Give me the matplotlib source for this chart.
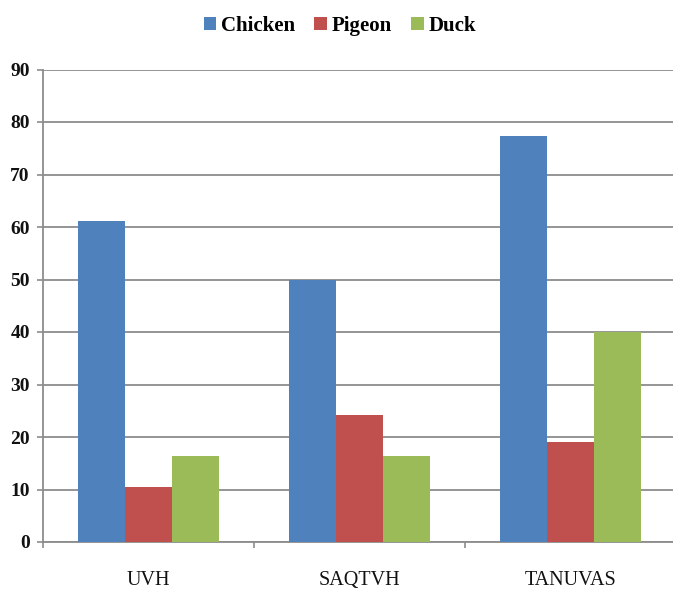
import matplotlib
matplotlib.use("Agg")
import matplotlib.pyplot as plt
import numpy as np

sites = ["UVH", "SAQTVH", "TANUVAS"]
chicken = [61.1, 50.0, 77.3]
pigeon = [10.4, 24.2, 19.0]
duck = [16.4, 16.4, 40.0]
series_names = ["Chicken", "Pigeon", "Duck"]
colors = ["#4F81BD", "#C0504D", "#9BBB59"]
y_ticks = [0, 10, 20, 30, 40, 50, 60, 70, 80, 90]

W, H = 673, 590
fig = plt.figure(figsize=(W / 100, H / 100), dpi=100)
ax = fig.add_axes([43 / W, 48 / H, (676 - 43) / W, (542 - 69.5) / H])

x = np.arange(len(sites))
bw = 0.2227
for i, (vals, name, c) in enumerate(zip([chicken, pigeon, duck], series_names, colors)):
    ax.bar(x + (i - 1) * bw, vals, width=bw, color=c, label=name, zorder=3)

ax.set_xlim(-0.5, len(sites) - 0.5)
ax.set_ylim(0, 90)
ax.set_yticks(y_ticks)
ax.set_yticklabels([str(t) for t in y_ticks], fontfamily="Liberation Serif",
                   fontweight="bold", fontsize=14)

ax.grid(axis="y", color="#8c8c8c", linewidth=1.3, zorder=0)
ax.set_axisbelow(True)

for s in ["top", "right"]:
    ax.spines[s].set_visible(False)
for s in ["left", "bottom"]:
    ax.spines[s].set_color("#8c8c8c")
    ax.spines[s].set_linewidth(1.3)

ax.tick_params(axis="y", length=4.5, width=1.2, color="#8c8c8c", pad=5, labelcolor="#111111")
ax.set_xticks(np.arange(-0.5, len(sites) - 0.4, 1.0))
ax.set_xticklabels([])
ax.tick_params(axis="x", which="major", length=4.5, width=1.2, color="#8c8c8c", direction="out")
ax.set_xticks(x, minor=True)
ax.set_xticklabels(sites, minor=True, fontfamily="Liberation Serif", fontsize=14.5,
                   color="#111111")
ax.tick_params(axis="x", which="minor", length=0, pad=21)

handles, labels = ax.get_legend_handles_labels()
fig.legend(handles, labels, loc="center", bbox_to_anchor=(340 / W, 1 - 26 / H), ncol=3,
           frameon=False, prop={"family": "Liberation Serif", "weight": "bold", "size": 15},
           handlelength=0.6, handleheight=0.6, handletextpad=0.25, columnspacing=0.9)

fig.savefig("out.png", dpi=100)
